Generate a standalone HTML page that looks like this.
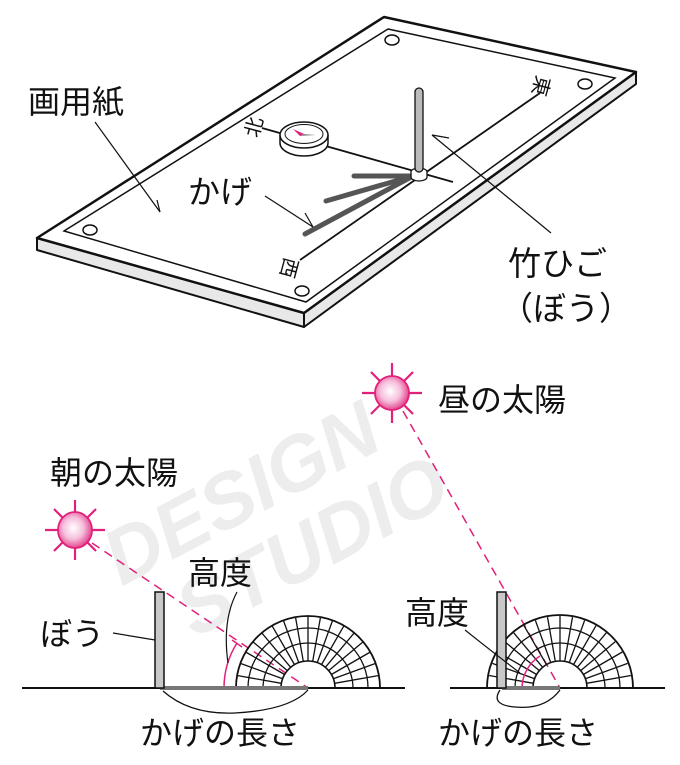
<!DOCTYPE html>
<html><head><meta charset="utf-8"><style>
html,body{margin:0;padding:0;background:#fff}
svg{display:block}
text{font-family:"Liberation Sans","Noto Sans CJK JP",sans-serif;fill:#111}
</style></head><body>
<svg width="680" height="765" viewBox="0 0 680 765" xmlns="http://www.w3.org/2000/svg">
<defs>
<radialGradient id="sg" cx="0.45" cy="0.45" r="0.6">
<stop offset="0" stop-color="#fff"/><stop offset="0.5" stop-color="#f6bfdc"/><stop offset="1" stop-color="#e0307f"/>
</radialGradient>
</defs>
<!-- faint watermark -->
<g transform="rotate(-28 320 470)" font-family="Liberation Sans, sans-serif" font-weight="bold" font-style="italic">
<text x="90" y="480" font-size="78" style="fill:#ededed">DESIGN</text>
<text x="130" y="560" font-size="78" style="fill:#ededed">STUDIO</text>
</g>
<!-- board -->
<polygon points="37,238 304,313 304,327 37,250" fill="#e8e8e8" stroke="#111" stroke-width="2" stroke-linejoin="round"/>
<polygon points="304,313 636,72 636,84 304,327" fill="#e8e8e8" stroke="#111" stroke-width="2" stroke-linejoin="round"/>
<polygon points="384,17 636,72 304,313 37,238" fill="#fff" stroke="#111" stroke-width="2.5" stroke-linejoin="round"/>
<polygon points="388,29 615,78 306,302 64,231" fill="none" stroke="#111" stroke-width="1.5"/>
<g fill="#fff" stroke="#111" stroke-width="1.5">
<ellipse cx="392" cy="40" rx="7" ry="5"/><ellipse cx="585" cy="84" rx="7" ry="5"/>
<ellipse cx="90" cy="230" rx="7" ry="5"/><ellipse cx="302" cy="291" rx="7" ry="5"/>
</g>
<!-- lines -->
<line x1="262" y1="128" x2="453" y2="182" stroke="#111" stroke-width="1.8"/>
<line x1="540" y1="93" x2="300" y2="260" stroke="#111" stroke-width="1.8"/>
<!-- compass -->
<path d="M280,135 v8 a24,13 0 0 0 48,0 v-8" fill="#fff" stroke="#111" stroke-width="1.5"/>
<ellipse cx="304" cy="135" rx="24" ry="13" fill="#fff" stroke="#111" stroke-width="1.5"/>
<ellipse cx="304" cy="134" rx="19" ry="9.5" fill="none" stroke="#111" stroke-width="1"/>
<polygon points="293,129 304,134 300,136" fill="#e0207a"/>
<polygon points="304,134 316,135 300,136" fill="#888"/>
<!-- shadows -->
<g stroke="#555" stroke-width="5" stroke-linecap="round">
<line x1="413" y1="176" x2="354" y2="176"/>
<line x1="413" y1="176" x2="326" y2="201"/>
<line x1="413" y1="176" x2="305" y2="234"/>
</g>
<!-- pole -->
<ellipse cx="419" cy="172" rx="8" ry="4" fill="#fff" stroke="#111" stroke-width="1.3"/>
<path d="M411,172 v5 a8,4 0 0 0 16,0 v-5" fill="#fff" stroke="#111" stroke-width="1.3"/>
<rect x="415" y="88" width="8" height="84" rx="4" fill="#bbb" stroke="#111" stroke-width="1.3"/>
<!-- labels top -->
<text x="28" y="113" font-size="32">画用紙</text>
<line x1="95" y1="122" x2="160" y2="212" stroke="#111" stroke-width="1.2"/>
<line x1="160" y1="212" x2="157" y2="200" stroke="#111" stroke-width="1.2"/>
<text x="188" y="203" font-size="32">かげ</text>
<line x1="265" y1="196" x2="313" y2="227" stroke="#111" stroke-width="1.2"/>
<line x1="313" y1="227" x2="305" y2="213" stroke="#111" stroke-width="1.2"/>
<text x="508" y="275" font-size="33">竹ひご</text>
<text x="500" y="320" font-size="33">（ぼう）</text>
<line x1="432" y1="135" x2="551" y2="233" stroke="#111" stroke-width="1.2"/>
<line x1="432" y1="135" x2="449" y2="138" stroke="#111" stroke-width="1.2"/>
<text x="244" y="134" font-size="20" transform="rotate(-75 254 127)">北</text>
<text x="531" y="93" font-size="20" transform="rotate(105 541 86)">東</text>
<text x="279" y="275" font-size="20" transform="rotate(105 289 268)">西</text>
<!-- noon sun -->
<g stroke="#e0207a" stroke-width="2.2">
<line x1="392" y1="363" x2="392" y2="423"/><line x1="362" y1="393" x2="422" y2="393"/>
<line x1="371" y1="372" x2="413" y2="414"/><line x1="413" y1="372" x2="371" y2="414"/>
</g>
<circle cx="392" cy="393" r="17" fill="url(#sg)" stroke="#e0207a" stroke-width="1.8"/>
<text x="438" y="411" font-size="32">昼の太陽</text>
<line x1="403" y1="411" x2="560" y2="688" stroke="#e0207a" stroke-width="1.5" stroke-dasharray="9,6"/>
<!-- morning sun -->
<text x="50" y="484" font-size="32">朝の太陽</text>
<g stroke="#e0207a" stroke-width="2.2">
<line x1="75" y1="500" x2="75" y2="560"/><line x1="45" y1="530" x2="105" y2="530"/>
<line x1="54" y1="509" x2="96" y2="551"/><line x1="96" y1="509" x2="54" y2="551"/>
</g>
<ellipse cx="75" cy="530" rx="17" ry="18" fill="url(#sg)" stroke="#e0207a" stroke-width="1.8"/>
<line x1="92" y1="543" x2="308" y2="688" stroke="#e0207a" stroke-width="1.5" stroke-dasharray="9,6"/>
<!-- left diagram -->
<line x1="22" y1="688" x2="405" y2="688" stroke="#111" stroke-width="2"/>
<g fill="none" stroke="#111" stroke-width="1.3" transform="translate(308,688)">
<path d="M-72,0 A72,72 0 0 1 72,0" stroke-width="1.8"/>
<path d="M-60,0 A60,60 0 0 1 60,0"/>
<path d="M-45,0 A45,45 0 0 1 45,0"/>
<path d="M-27,0 A27,27 0 0 1 27,0" stroke-width="1.6"/>
<path d="M-27,0 H-72 M27,0 H72"/>
<g id="rays">
<line x1="27" y1="0" x2="72" y2="0" transform="rotate(-10)"/><line x1="27" y1="0" x2="72" y2="0" transform="rotate(-20)"/>
<line x1="27" y1="0" x2="72" y2="0" transform="rotate(-30)"/><line x1="27" y1="0" x2="72" y2="0" transform="rotate(-40)"/>
<line x1="27" y1="0" x2="72" y2="0" transform="rotate(-50)"/><line x1="27" y1="0" x2="72" y2="0" transform="rotate(-60)"/>
<line x1="27" y1="0" x2="72" y2="0" transform="rotate(-70)"/><line x1="27" y1="0" x2="72" y2="0" transform="rotate(-80)"/>
<line x1="27" y1="0" x2="72" y2="0" transform="rotate(-90)"/><line x1="27" y1="0" x2="72" y2="0" transform="rotate(-100)"/>
<line x1="27" y1="0" x2="72" y2="0" transform="rotate(-110)"/><line x1="27" y1="0" x2="72" y2="0" transform="rotate(-120)"/>
<line x1="27" y1="0" x2="72" y2="0" transform="rotate(-130)"/><line x1="27" y1="0" x2="72" y2="0" transform="rotate(-140)"/>
<line x1="27" y1="0" x2="72" y2="0" transform="rotate(-150)"/><line x1="27" y1="0" x2="72" y2="0" transform="rotate(-160)"/>
<line x1="27" y1="0" x2="72" y2="0" transform="rotate(-170)"/>
</g>
</g>
<path d="M224,688 A84,84 0 0 1 237,643" fill="none" stroke="#e0207a" stroke-width="1.5"/>
<line x1="232" y1="640" x2="242" y2="647" stroke="#e0207a" stroke-width="1.5"/>
<line x1="160" y1="688" x2="308" y2="688" stroke="#777" stroke-width="4"/>
<rect x="155" y="592" width="9" height="96" fill="#c8c8c8" stroke="#111" stroke-width="1.5"/>
<path d="M163,691 Q190,715 235,713 Q290,710 308,690" fill="none" stroke="#111" stroke-width="1.3"/>
<text x="188" y="584" font-size="32">高度</text>
<path d="M237,592 Q222,620 228,663" fill="none" stroke="#111" stroke-width="1.2"/>
<text x="40" y="645" font-size="32">ぼう</text>
<line x1="113" y1="633" x2="155" y2="640" stroke="#111" stroke-width="1.2"/>
<text x="140" y="744" font-size="32">かげの長さ</text>
<!-- right diagram -->
<line x1="450" y1="688" x2="665" y2="688" stroke="#111" stroke-width="2"/>
<g fill="none" stroke="#111" stroke-width="1.3" transform="translate(560,688)">
<path d="M-73,0 A73,73 0 0 1 73,0" stroke-width="1.8"/>
<path d="M-60,0 A60,60 0 0 1 60,0"/>
<path d="M-45,0 A45,45 0 0 1 45,0"/>
<path d="M-27,0 A27,27 0 0 1 27,0" stroke-width="1.6"/>
<use href="#rays"/>
</g>
<path d="M522,688 A38,38 0 0 1 540,656" fill="none" stroke="#e0207a" stroke-width="1.5"/>
<line x1="502" y1="688" x2="560" y2="688" stroke="#777" stroke-width="4"/>
<rect x="497" y="592" width="9" height="96" fill="#c8c8c8" stroke="#111" stroke-width="1.5"/>
<path d="M500,690 Q490,705 515,707 Q545,710 560,690" fill="none" stroke="#111" stroke-width="1.3"/>
<text x="405" y="624" font-size="32">高度</text>
<path d="M465,630 Q490,650 520,673" fill="none" stroke="#111" stroke-width="1.2"/>
<text x="438" y="744" font-size="32">かげの長さ</text>
</svg>
</body></html>
